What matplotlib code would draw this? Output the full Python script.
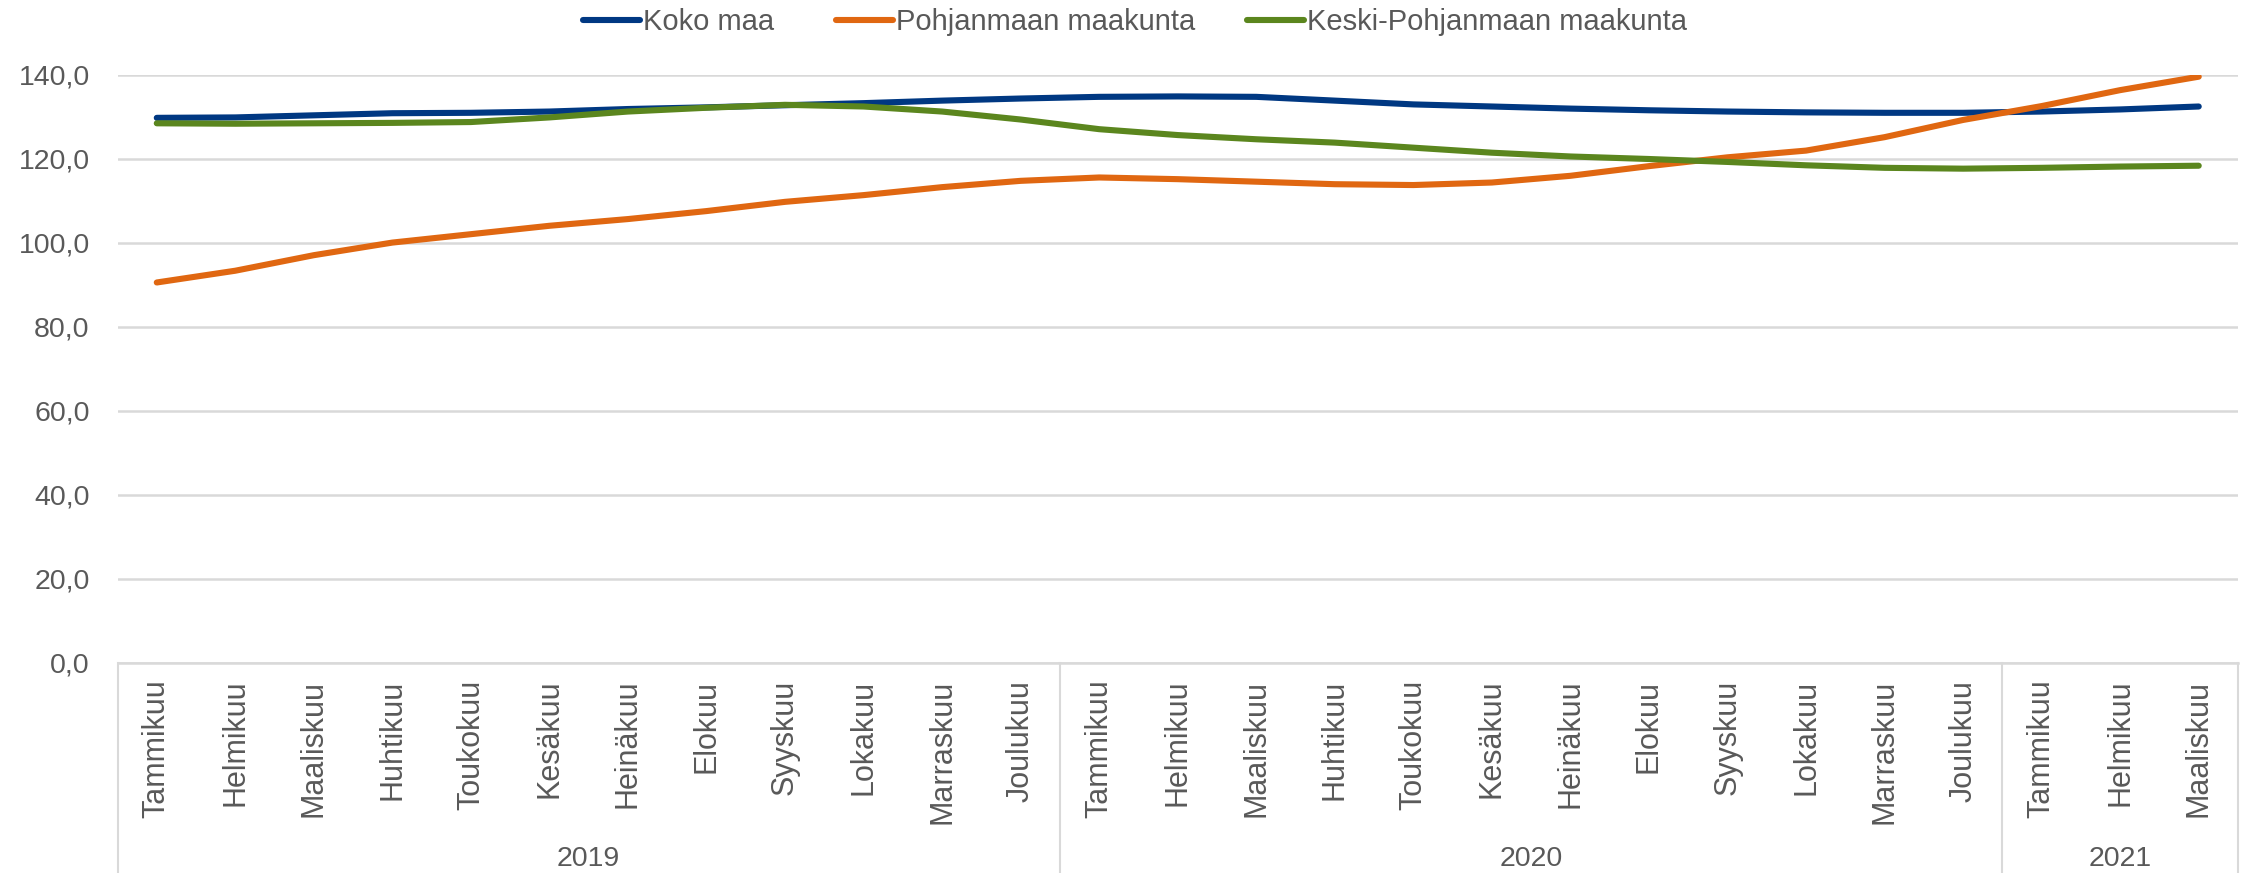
import matplotlib
matplotlib.use("Agg")
import matplotlib.pyplot as plt
import matplotlib.transforms as mtransforms
import numpy as np

plt.rcParams['font.family'] = ['Liberation Sans', 'DejaVu Sans']

months = ["Tammikuu", "Helmikuu", "Maaliskuu", "Huhtikuu", "Toukokuu", "Kesäkuu",
          "Heinäkuu", "Elokuu", "Syyskuu", "Lokakuu", "Marraskuu", "Joulukuu"]
month_labels = months + months + months[:3]
years = ["2019", "2020", "2021"]
year_lengths = [12, 12, 3]

koko_maa = [129.8, 129.9, 130.4, 130.9, 131.0, 131.3, 131.9, 132.3, 132.8, 133.3, 133.9, 134.4,
            134.8, 134.9, 134.8, 133.9, 133.0, 132.5, 132.0, 131.6, 131.3, 131.1, 131.0, 131.0,
            131.3, 131.8, 132.5]
pohjanmaa = [90.6, 93.4, 97.1, 100.1, 102.1, 104.1, 105.7, 107.6, 109.8, 111.4, 113.3, 114.8,
             115.6, 115.2, 114.6, 114.0, 113.8, 114.4, 116.0, 118.3, 120.4, 122.0, 125.2, 129.3,
             132.6, 136.4, 139.6]
keski_pohjanmaa = [128.5, 128.4, 128.5, 128.6, 128.8, 129.9, 131.3, 132.2, 132.9, 132.5, 131.3, 129.4,
                   127.1, 125.7, 124.7, 123.9, 122.7, 121.5, 120.6, 120.0, 119.3, 118.5, 117.9, 117.7,
                   117.9, 118.2, 118.4]

series = [("Koko maa", koko_maa, "#003882"),
          ("Pohjanmaan maakunta", pohjanmaa, "#e06711"),
          ("Keski-Pohjanmaan maakunta", keski_pohjanmaa, "#5b861e")]

grey = "#595959"
gridc = "#d9d9d9"

fig = plt.figure(figsize=(22.47, 8.73), dpi=100)
ax = fig.add_axes([117.5 / 2247, 210 / 873, (2238 - 117.5) / 2247, 588 / 873])

x = np.arange(len(month_labels))
lines = []
for name, vals, col in series:
    ln, = ax.plot(x, vals, color=col, lw=4.4, solid_capstyle="round",
                  solid_joinstyle="round", label=name)
    lines.append(ln)

ax.set_xlim(-0.5, len(month_labels) - 0.5)
ax.set_ylim(0, 140)
ax.set_yticks(np.arange(0, 141, 20))
ax.set_yticklabels([f"{v:.1f}".replace(".", ",") for v in np.arange(0, 141, 20)])
ax.grid(axis="y", color=gridc, lw=1.8)
ax.set_axisbelow(True)
for s in ["top", "right", "left"]:
    ax.spines[s].set_visible(False)
ax.spines["bottom"].set_color(gridc)
ax.spines["bottom"].set_linewidth(1.8)

ax.set_xticks(x)
ax.set_xticklabels(month_labels, rotation=90, va="top", ha="center")
ax.tick_params(axis="x", length=0, pad=12, labelsize=22, labelcolor=grey)
ax.tick_params(axis="y", length=0, pad=20, labelsize=20.5, labelcolor=grey)

# year grouping lines and labels under the category axis
trans = mtransforms.blended_transform_factory(ax.transData, ax.transAxes)
bounds = np.concatenate([[0], np.cumsum(year_lengths)]) - 0.5
for b in bounds:
    ax.plot([b, b], [0, -0.36], transform=trans, color=gridc, lw=1.5, clip_on=False)
for i, yr in enumerate(years):
    mid = (bounds[i] + bounds[i + 1]) / 2
    ax.text(mid, -0.333, yr, transform=trans, ha="center", va="center", fontsize=20.5, color=grey)

# legend entries placed one by one, like the spreadsheet legend
for ln, xpos in zip(lines, [583 / 2247, 836 / 2247, 1247 / 2247]):
    fig.legend([ln], [ln.get_label()], loc="center left", bbox_to_anchor=(xpos, 0.975),
               frameon=False, fontsize=21, labelcolor=grey, handlelength=1.95,
               handletextpad=0.1, borderpad=0, borderaxespad=0)

fig.savefig("out.png", dpi=100)
